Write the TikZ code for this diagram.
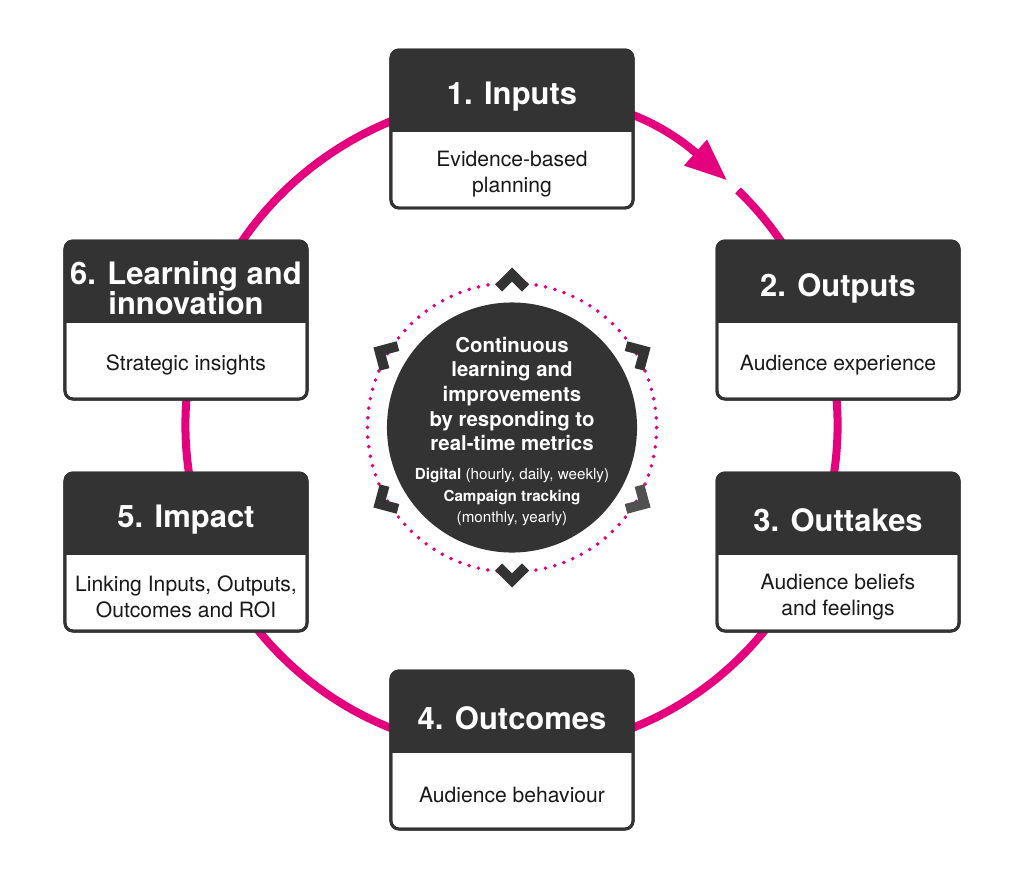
\documentclass[tikz,border=0pt]{standalone}
\usepackage{fontspec}
\setmainfont{TeX Gyre Heros}
\usepackage{tikz}
\usetikzlibrary{calc}
\usetikzlibrary{arrows.meta}
\definecolor{darkgrey}{RGB}{51,51,51}
\definecolor{midgrey}{RGB}{80,80,80}
\definecolor{magenta}{RGB}{229,0,126}
\tikzset{
  boxframe/.style={rectangle,draw=darkgrey,line width=2.1pt,fill=white,rounded corners=0.2cm,
    minimum width=6.05cm,minimum height=3.95cm,inner sep=0pt,outer sep=0pt},
  boxline/.style={draw=darkgrey,line width=2.1pt,rounded corners=0.2cm},
  titletext/.style={text=white,align=center,inner sep=0pt,font=\bfseries\fontsize{22}{21.5}\selectfont},
  bodytext/.style={text=black!90,align=center,inner sep=0pt,font=\fontsize{15}{18.5}\selectfont},
  ring/.style={draw=magenta,line width=5.7pt},
  dotring/.style={draw=magenta,line width=2.8pt,line cap=round,dash pattern=on 0pt off 6.87pt},
  hubtitle/.style={text=white,align=center,inner sep=0pt,font=\bfseries\fontsize{14.5}{17.5}\selectfont},
  hubnote/.style={text=white,align=center,inner sep=0pt,font=\fontsize{10.8}{15}\selectfont}
}
% #1 name, #2 left, #3 top, #4 title, #5 body
\newcommand{\phasebox}[5]{
  \node[boxframe] (#1) at (#2+121,#3+79) {};
  \begin{scope}
    \clip[rounded corners=0.2cm] (#1.north west) rectangle (#1.south east);
    \fill[darkgrey] (#1.north west) rectangle ($(#1.north east)+(0,82)$);
  \end{scope}
  \draw[boxline] (#1.north west) rectangle (#1.south east);
  \node[titletext] (#1-t) at ($(#1.north)+(0,47)$) {#4};
  \node[bodytext] (#1-b) at ($(#1.south)+(0,-34)$) {#5};
}

\begin{document}
\begin{tikzpicture}[x=0.025cm,y=-0.025cm]
        \path[use as bounding box,fill=white] (0,0) rectangle (1024,880);
        \coordinate (ringc) at (511.5,425);
        \coordinate (hub) at (512,427.5);

        %cycle
        \draw[ring,-{Triangle[length=30pt,width=23pt]}] (ringc) ++(46:8.15cm) arc[start angle=46,end angle=-311.4,radius=8.15cm];

        %phases
        \phasebox{inputs}{391}{50}{1. Inputs}{Evidence-based\\planning}
        \phasebox{outputs}{717}{241}{2. Outputs}{Audience experience}
        \phasebox{outtakes}{717}{473}{3. Outtakes}{Audience beliefs\\and feelings}
        \phasebox{outcomes}{391}{671}{4. Outcomes}{Audience behaviour}
        \phasebox{impact}{65}{473}{5. Impact}{Linking Inputs, Outputs,\\Outcomes and ROI}
        \phasebox{learning}{65}{241}{6. Learning and\\innovation}{Strategic insights}

        %hub
        \draw[dotring] (hub) circle[radius=3.6125cm];
        \node[circle,fill=darkgrey,minimum size=6.25cm,inner sep=0pt] (hubdisc) at (hub) {};
        \foreach \a/\c in {30/darkgrey,90/darkgrey,150/darkgrey,210/darkgrey,270/darkgrey,330/midgrey}
        {
          \begin{scope}[shift={(hub)},rotate=\a]
            \fill[\c] (160,0) -- (143,17) -- (135.9,9.9) -- (145.9,0) -- (135.9,-9.9) -- (143,-17) -- cycle;
          \end{scope}
        }
        \node[hubtitle] (hubtext) at (512,394) {Continuous\\learning and\\improvements\\by responding to\\real-time metrics};
        \node[hubnote] (hubnote) at (512,497) {\textbf{Digital} (hourly, daily, weekly)\\\textbf{Campaign tracking}\\(monthly, yearly)};

\end{tikzpicture}
\end{document}
